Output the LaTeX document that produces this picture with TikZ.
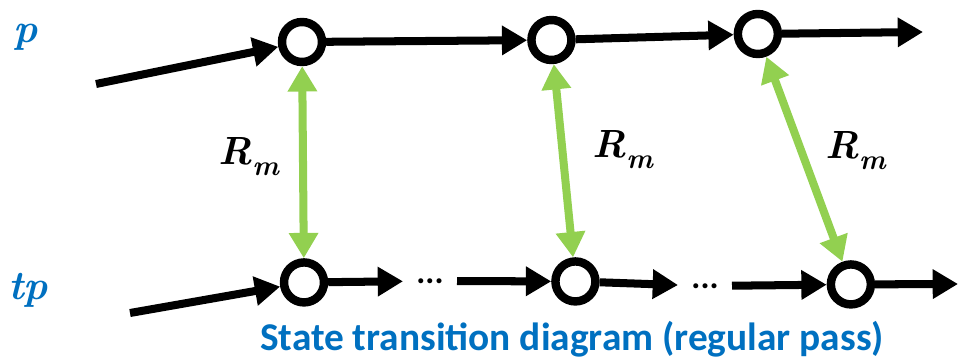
\documentclass[tikz,border=0pt]{standalone}
\usepackage{fontspec}
\newfontfamily\capfont{Carlito}
\usepackage{tikz}
\usetikzlibrary{automata,positioning,arrows.meta}
\definecolor{rmgreen}{HTML}{92D050}
\definecolor{lblue}{HTML}{0070C0}
\tikzset{every state/.style={draw=black,fill=white,line width=6pt,minimum size=1cm,inner sep=0pt,outer sep=auto}}
\newcommand{\rsub}[2]{#1\raisebox{-0.28em}{\fontsize{20}{20}\selectfont #2}}

\begin{document}
\begin{tikzpicture}[
    >={Triangle[length=18pt,width=20pt]},
    trans/.style={line width=5.7pt,->},
    link/.style={color=rmgreen,line width=5.7pt,<->},
    rlabel/.style={inner sep=0pt,text=black,font=\bfseries\itshape\fontsize{28}{28}\selectfont},
    rowlabel/.style={inner sep=0pt,text=lblue,font=\bfseries\itshape\fontsize{29}{30}\selectfont},
    dots/.style={inner ysep=0pt,inner xsep=0.33cm,font=\capfont\bfseries\fontsize{24}{24}\selectfont}
  ]
                   \useasboundingbox (0,0) rectangle (24.05,8.975);
                   % upper row p
                   \node[state] (p_1) at (7.55,7.925) {};
                   \node[state] (p_2) [right=5.025cm of p_1, yshift=0.05cm] {};
                   \node[state] (p_3) [right=3.95cm of p_2, yshift=0.15cm] {};
                   % lower row tp
                   \node[state] (tp_1) [below=4.8cm of p_1, xshift=0.05cm] {};
                   \node[state] (tp_2) [right=5.575cm of tp_1, yshift=0.025cm] {};
                   \node[state] (tp_3) [right=5.675cm of tp_2, yshift=-0.075cm] {};
                   \node[dots] (d_1) at (10.75,1.95) {...};
                   \node[dots] (d_2) at (17.625,1.825) {...};
                   \coordinate (p_in) at (2.4,6.875);
                   \coordinate (p_out) at (23.075,8.175);
                   \coordinate (tp_in) at (3.25,1.15);
                   \coordinate (tp_out) at (23.95,1.875);
                   \node[rowlabel] (lab_p) at (0.65,8.05) {p};
                   \node[rowlabel] (lab_tp) at (0.7,1.725) {tp};
                    \path[trans]
                    (p_in) edge (p_1)
                    (p_1) edge (p_2)
                    (p_2) edge (p_3)
                    (p_3) edge (p_out)
                    (tp_in) edge (tp_1)
                    (tp_1) edge (d_1)
                    (d_1) edge (tp_2)
                    (tp_2) edge (d_2)
                    (d_2) edge (tp_3)
                    (tp_3) edge (tp_out);
                    \draw[link] (p_1) -- node[rlabel, left=0.5cm, yshift=0.15cm] {\rsub{R}{m}} (tp_1);
                    \draw[link] (p_2) -- node[rlabel, right=0.625cm, yshift=0.275cm] {\rsub{R}{m}} (tp_2);
                    \draw[link] (p_3) -- node[rlabel, right=0.425cm, yshift=0.225cm] {\rsub{R}{m}} (tp_3);
                   \node[text=lblue, font=\capfont\bfseries\fontsize{28}{30}\selectfont] (caption) at (14.3,0.5) {State transition diagram (regular pass)};
                \end{tikzpicture}
\end{document}
